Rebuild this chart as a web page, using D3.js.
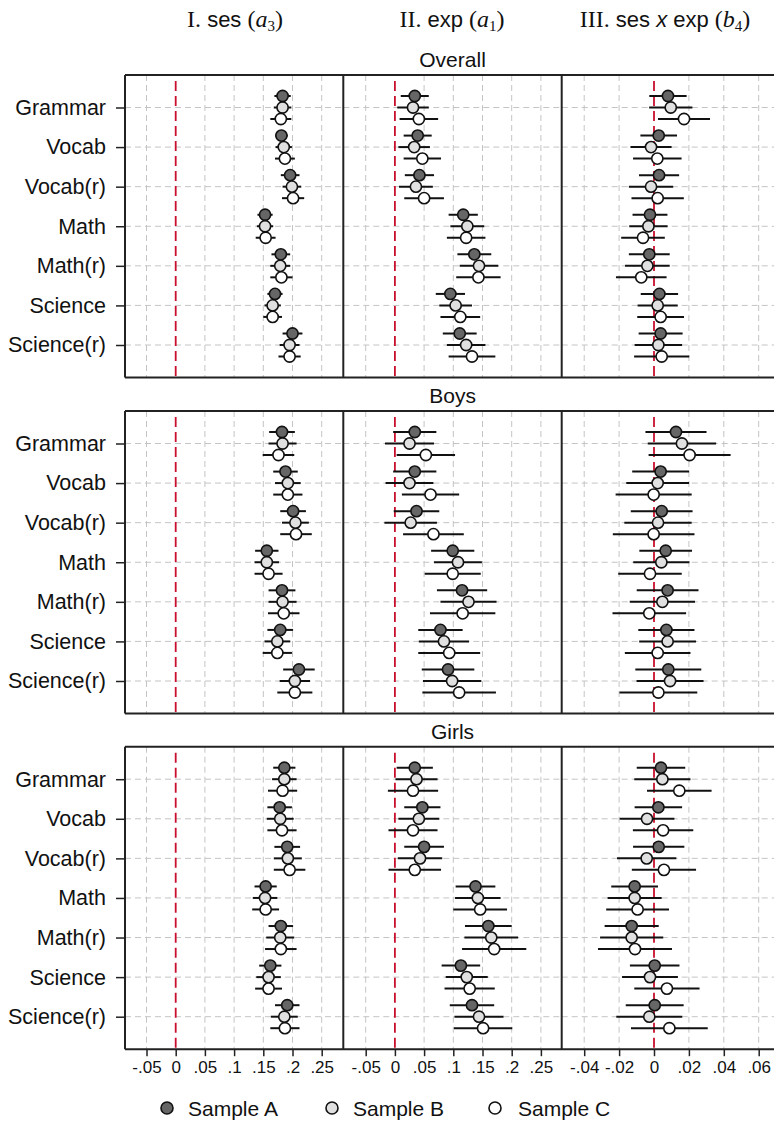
<!DOCTYPE html>
<html><head><meta charset="utf-8">
<script src="https://cdn.jsdelivr.net/npm/d3@7"></script>
<style>body{margin:0;background:#fff}svg{display:block}</style>
</head><body><div id="chart"></div>
<script>
// ---------- data ----------
const categories = ["Grammar","Vocab","Vocab(r)","Math","Math(r)","Science","Science(r)"];
const samples = ["Sample A","Sample B","Sample C"];
const groups = ["Overall","Boys","Girls"];
const tickSes = [-0.05,0,0.05,0.1,0.15,0.2,0.25];
const tickExp = [-0.05,0,0.05,0.1,0.15,0.2,0.25];
const tickInt = [-0.04,-0.02,0,0.02,0.04,0.06];

// each row: [Sample A, Sample B, Sample C]; est = point estimate, half = CI half-width
const overallSesEst = [[0.183,0.183,0.180],[0.181,0.185,0.187],[0.196,0.199,0.201],[0.153,0.153,0.154],[0.180,0.179,0.181],[0.170,0.166,0.166],[0.200,0.195,0.195]];
const overallSesHalf = [[0.014,0.015,0.018],[0.011,0.014,0.017],[0.016,0.016,0.019],[0.013,0.014,0.017],[0.016,0.017,0.019],[0.013,0.014,0.016],[0.017,0.017,0.019]];
const overallExpEst = [[0.034,0.031,0.041],[0.039,0.033,0.047],[0.042,0.036,0.050],[0.117,0.124,0.122],[0.136,0.144,0.143],[0.095,0.104,0.112],[0.111,0.122,0.132]];
const overallExpHalf = [[0.024,0.027,0.033],[0.024,0.027,0.032],[0.025,0.029,0.034],[0.025,0.029,0.033],[0.029,0.033,0.038],[0.025,0.028,0.034],[0.029,0.033,0.040]];
const overallIntEst = [[0.0080,0.0096,0.0172],[0.0027,-0.0017,0.0019],[0.0029,-0.0017,0.0021],[-0.0023,-0.0032,-0.0063],[-0.0027,-0.0038,-0.0073],[0.0031,0.0021,0.0038],[0.0038,0.0025,0.0044]];
const overallIntHalf = [[0.0107,0.0124,0.0149],[0.0105,0.0118,0.0139],[0.0115,0.0127,0.0150],[0.0100,0.0110,0.0125],[0.0117,0.0128,0.0145],[0.0107,0.0115,0.0134],[0.0126,0.0136,0.0158]];

const boysSesEst = [[0.182,0.183,0.176],[0.188,0.192,0.192],[0.201,0.205,0.206],[0.156,0.156,0.159],[0.182,0.183,0.185],[0.179,0.174,0.174],[0.211,0.204,0.204]];
const boysSesHalf = [[0.022,0.024,0.027],[0.021,0.022,0.025],[0.022,0.023,0.027],[0.020,0.021,0.024],[0.023,0.024,0.027],[0.022,0.022,0.025],[0.027,0.026,0.030]];
const boysExpEst = [[0.034,0.025,0.053],[0.034,0.025,0.061],[0.037,0.027,0.066],[0.099,0.108,0.099],[0.115,0.126,0.116],[0.078,0.084,0.093],[0.091,0.098,0.110]];
const boysExpHalf = [[0.037,0.042,0.050],[0.037,0.041,0.049],[0.039,0.045,0.052],[0.037,0.041,0.048],[0.043,0.048,0.056],[0.038,0.043,0.053],[0.045,0.050,0.063]];
const boysIntEst = [[0.0126,0.0160,0.0204],[0.0038,0.0021,-0.0002],[0.0044,0.0023,-0.0002],[0.0067,0.0042,-0.0023],[0.0078,0.0048,-0.0027],[0.0071,0.0078,0.0021],[0.0082,0.0092,0.0025]];
const boysIntHalf = [[0.0175,0.0196,0.0235],[0.0163,0.0180,0.0218],[0.0177,0.0193,0.0234],[0.0151,0.0161,0.0182],[0.0177,0.0187,0.0211],[0.0161,0.0163,0.0188],[0.0189,0.0192,0.0223]];

const girlsSesEst = [[0.186,0.186,0.183],[0.178,0.179,0.182],[0.191,0.192,0.195],[0.154,0.153,0.154],[0.180,0.179,0.180],[0.162,0.159,0.159],[0.191,0.186,0.187]];
const girlsSesHalf = [[0.019,0.021,0.025],[0.021,0.023,0.025],[0.022,0.024,0.027],[0.019,0.021,0.023],[0.021,0.024,0.027],[0.019,0.021,0.023],[0.021,0.023,0.025]];
const girlsExpEst = [[0.034,0.037,0.031],[0.047,0.041,0.031],[0.050,0.043,0.034],[0.138,0.142,0.146],[0.160,0.165,0.170],[0.113,0.123,0.128],[0.132,0.144,0.151]];
const girlsExpHalf = [[0.031,0.036,0.043],[0.031,0.035,0.042],[0.034,0.038,0.045],[0.034,0.039,0.046],[0.040,0.046,0.055],[0.033,0.036,0.043],[0.038,0.042,0.050]];
const girlsIntEst = [[0.0040,0.0048,0.0145],[0.0025,-0.0040,0.0052],[0.0027,-0.0042,0.0057],[-0.0111,-0.0111,-0.0094],[-0.0128,-0.0128,-0.0109],[0.0004,-0.0023,0.0074],[0.0004,-0.0027,0.0088]];
const girlsIntHalf = [[0.0139,0.0161,0.0185],[0.0136,0.0157,0.0173],[0.0147,0.0170,0.0184],[0.0134,0.0155,0.0180],[0.0155,0.0181,0.0212],[0.0142,0.0160,0.0187],[0.0166,0.0189,0.0220]];

// ---------- layout ----------
const W = 774, H = 1122;
const colX = [125, 343.3, 561.7], colW = 218.4;
const rowY = [75, 411, 746.7], rowH = 302.5;
const fills = ["#666666","#e0e0e0","#ffffff"];
const offsets = [-11.5, 0, 11.5];
const sans = "'Liberation Sans', Arial, Helvetica, sans-serif";
const serif = "'Liberation Serif', 'Times New Roman', serif";

const table = [
  [[overallSesEst,overallSesHalf],[overallExpEst,overallExpHalf],[overallIntEst,overallIntHalf]],
  [[boysSesEst,boysSesHalf],[boysExpEst,boysExpHalf],[boysIntEst,boysIntHalf]],
  [[girlsSesEst,girlsSesHalf],[girlsExpEst,girlsExpHalf],[girlsIntEst,girlsIntHalf]]
];
const ticksByCol = [tickSes, tickExp, tickInt];

const xScales = [
  d3.scaleLinear().domain([-0.05,0.25]).range([146.5,321.7]),
  d3.scaleLinear().domain([-0.05,0.25]).range([365.7,540.9]),
  d3.scaleLinear().domain([-0.04,0.06]).range([584.2,758.7])
];
const fmt = d => d === 0 ? "0" : String(d).replace(/^(-?)0\./, "$1.");

const svg = d3.select("#chart").append("svg").attr("width", W).attr("height", H);
svg.append("rect").attr("width", W).attr("height", H).attr("fill", "#fff");

// column headers
const headers = [
  {x:235, parts:[["I.",serif,"normal",24],[" ses ",sans,"normal",22],["(",serif,"normal",24],["a",serif,"italic",24],["3",serif,"normal",15,"sub"],[")",serif,"normal",24]]},
  {x:452, parts:[["II.",serif,"normal",24],[" exp ",sans,"normal",22],["(",serif,"normal",24],["a",serif,"italic",24],["1",serif,"normal",15,"sub"],[")",serif,"normal",24]]},
  {x:665, parts:[["III.",serif,"normal",24],[" ses ",sans,"normal",22],["x",sans,"italic",22],[" exp ",sans,"normal",22],["(",serif,"normal",24],["b",serif,"italic",24],["4",serif,"normal",15,"sub"],[")",serif,"normal",24]]}
];
headers.forEach(h => {
  const t = svg.append("text").attr("x", h.x).attr("y", 27).attr("text-anchor","middle").attr("fill","#111");
  h.parts.forEach(p => {
    const ts = t.append("tspan").text(p[0]).attr("font-family", p[1]).attr("font-style", p[2]).attr("font-size", p[3]).style("white-space","pre");
    if (p[4] === "sub") ts.attr("dy", 4);
    else if (p[0] === ")") ts.attr("dy", -4);
  });
});

groups.forEach((g, gi) => {
  const top = rowY[gi], bottom = top + rowH;
  const y = d3.scalePoint().domain(categories).range([top + 32.5, bottom - 32.5]);

  svg.append("text").attr("x", (colX[0] + colX[2] + colW) / 2).attr("y", top - 8)
    .attr("text-anchor","middle").attr("font-family", sans).attr("font-size", 21).attr("fill","#111").text(g);

  colX.forEach((cx, ci) => {
    const x = xScales[ci];
    const panel = svg.append("g");
    panel.selectAll(".hg").data(categories).join("line")
      .attr("x1", cx).attr("x2", cx + colW).attr("y1", d => y(d)).attr("y2", d => y(d))
      .attr("stroke", "#c4c4c4").attr("stroke-width", 1).attr("stroke-dasharray", "6,4");
    panel.selectAll(".vg").data(ticksByCol[ci].filter(t => t !== 0)).join("line")
      .attr("x1", d => x(d)).attr("x2", d => x(d)).attr("y1", top).attr("y2", bottom)
      .attr("stroke", "#c4c4c4").attr("stroke-width", 1).attr("stroke-dasharray", "6,4");
    panel.append("line").attr("x1", x(0)).attr("x2", x(0)).attr("y1", top + 6).attr("y2", bottom)
      .attr("stroke", "#c8102e").attr("stroke-width", 1.8).attr("stroke-dasharray", "10,5");

    const [est, half] = table[gi][ci];
    categories.forEach((c, k) => {
      samples.forEach((s, si) => {
        const yy = y(c) + offsets[si];
        const v = est[k][si], h = half[k][si];
        panel.append("line").attr("x1", x(v - h)).attr("x2", x(v + h)).attr("y1", yy).attr("y2", yy)
          .attr("stroke", "#111").attr("stroke-width", 2);
      });
      samples.forEach((s, si) => {
        const yy = y(c) + offsets[si];
        panel.append("circle").attr("cx", x(est[k][si])).attr("cy", yy).attr("r", 5.6)
          .attr("fill", fills[si]).attr("stroke", "#111").attr("stroke-width", 1.6);
      });
    });
  });

  svg.append("line").attr("x1", colX[0]).attr("x2", colX[2] + colW).attr("y1", top).attr("y2", top).attr("stroke","#222").attr("stroke-width",2);
  svg.append("line").attr("x1", colX[0]).attr("x2", colX[2] + colW).attr("y1", bottom).attr("y2", bottom).attr("stroke","#222").attr("stroke-width",2);
  colX.concat([colX[2] + colW]).forEach(cx => {
    svg.append("line").attr("x1", cx).attr("x2", cx).attr("y1", top).attr("y2", bottom).attr("stroke","#222").attr("stroke-width",2);
  });

  const ya = svg.append("g").attr("transform", `translate(${colX[0]},0)`)
    .call(d3.axisLeft(y).tickSize(9).tickPadding(10).tickSizeOuter(0));
  ya.select(".domain").remove();
  ya.selectAll(".tick line").attr("stroke","#222").attr("stroke-width",1.5);
  ya.selectAll(".tick text").attr("font-family", sans).attr("font-size", 21.5).attr("fill","#111");

  if (gi === groups.length - 1) {
    colX.forEach((cx, ci) => {
      const xa = svg.append("g").attr("transform", `translate(0,${bottom})`)
        .call(d3.axisBottom(xScales[ci]).tickValues(ticksByCol[ci]).tickFormat(fmt).tickSize(7).tickPadding(5).tickSizeOuter(0));
      xa.select(".domain").remove();
      xa.selectAll(".tick line").attr("stroke","#222").attr("stroke-width",1.5);
      xa.selectAll(".tick text").attr("font-family", sans).attr("font-size", 17).attr("fill","#111");
    });
  }
});

// legend
const legendItems = [{cx:167, tx:188},{cx:332, tx:353},{cx:495, tx:518}];
samples.forEach((s, si) => {
  svg.append("circle").attr("cx", legendItems[si].cx).attr("cy", 1108).attr("r", 6)
    .attr("fill", fills[si]).attr("stroke","#111").attr("stroke-width",1.6);
  svg.append("text").attr("x", legendItems[si].tx).attr("y", 1115.5)
    .attr("font-family", sans).attr("font-size", 21).attr("fill","#111").text(s);
});
</script></body></html>
